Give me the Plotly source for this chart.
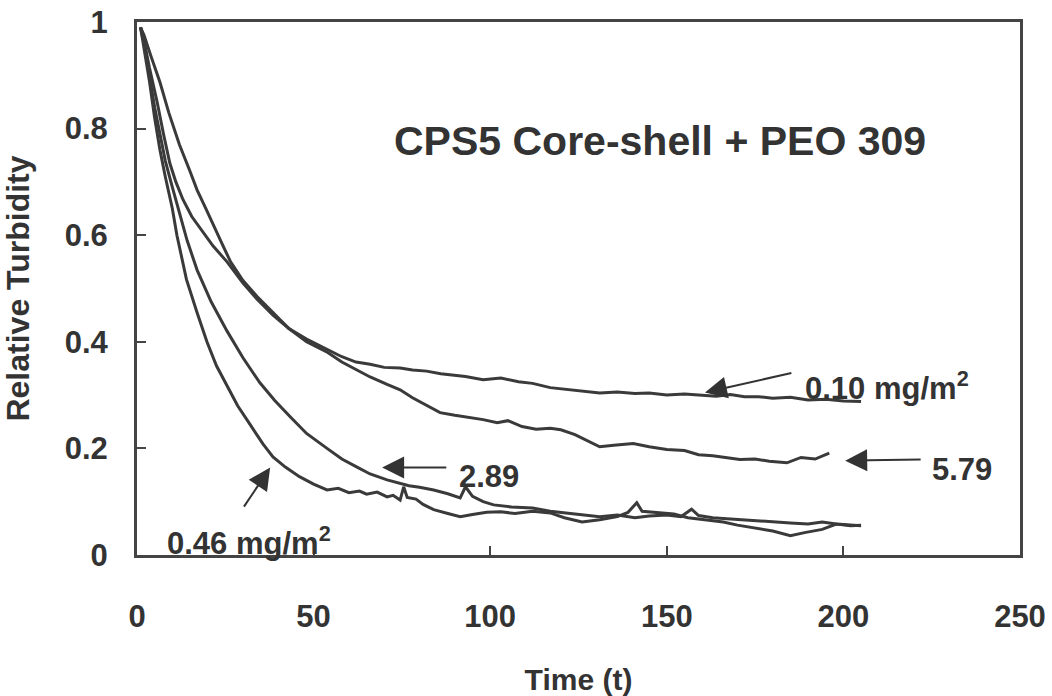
import plotly.graph_objects as go

# ---- data ----
t_010 = [1, 2, 4, 6.5, 9, 12, 15, 17, 19.5, 21.5, 24, 26.5, 30, 34, 38.5, 43, 48, 54, 58, 62,
         66, 70, 74.5, 78, 82, 86, 89, 93, 98, 103, 108, 112, 117, 122, 126, 131, 136, 141, 145, 150,
         155, 159, 164, 168, 172, 176, 180, 185, 190, 195, 200, 205]
y_010 = [0.99, 0.975, 0.935, 0.887, 0.83, 0.77, 0.72, 0.685, 0.65, 0.62, 0.585, 0.55, 0.515, 0.485, 0.455,
         0.425, 0.405, 0.385, 0.372, 0.362, 0.358, 0.352, 0.351, 0.347, 0.345, 0.34, 0.338, 0.335, 0.329, 0.332,
         0.325, 0.322, 0.314, 0.31, 0.307, 0.304, 0.306, 0.303, 0.304, 0.30, 0.302, 0.30, 0.298, 0.301, 0.297,
         0.297, 0.294, 0.296, 0.291, 0.292, 0.289, 0.288]

t_579 = [1, 2, 3.5, 5.7, 7.5, 9.3, 11, 13, 15.5, 18.7, 21.5, 25.5, 30, 34, 38.5, 43, 48, 54, 58, 62,
         66, 70.8, 74.5, 78, 82, 85.8, 90, 94, 98, 102, 105, 109, 113, 117, 120, 124, 128, 131, 135, 140.5,
         145, 150, 155, 159, 163, 167, 170.7, 175, 179, 184, 188, 192, 196]
y_579 = [0.99, 0.965, 0.915, 0.85, 0.79, 0.735, 0.70, 0.667, 0.635, 0.605, 0.58, 0.55, 0.51, 0.48, 0.45,
         0.425, 0.40, 0.38, 0.362, 0.348, 0.334, 0.32, 0.31, 0.295, 0.28, 0.267, 0.262, 0.258, 0.254, 0.248,
         0.252, 0.241, 0.236, 0.238, 0.235, 0.226, 0.213, 0.203, 0.206, 0.209, 0.203, 0.198, 0.196, 0.188, 0.186,
         0.183, 0.179, 0.18, 0.176, 0.173, 0.183, 0.18, 0.191]

t_289 = [1, 2, 3.5, 5, 6.5, 8, 10, 12, 14.2, 17, 21, 25.5, 30, 34.8, 39, 43.3, 48, 53.8, 58, 62.3,
         66, 70.8, 74, 77, 80, 84, 88, 91.5, 93, 95, 98, 101, 106, 112, 117, 121, 126, 131, 136, 141,
         145, 150, 154, 157, 159, 163, 167, 171, 175, 180, 185, 190, 194, 198, 202, 205]
y_289 = [0.99, 0.96, 0.9, 0.84, 0.79, 0.74, 0.69, 0.64, 0.59, 0.535, 0.475, 0.42, 0.37, 0.323, 0.29,
         0.26, 0.228, 0.2, 0.18, 0.165, 0.152, 0.141, 0.135, 0.13, 0.127, 0.122, 0.115, 0.107, 0.128, 0.11,
         0.1, 0.094, 0.09, 0.088, 0.082, 0.079, 0.075, 0.072, 0.075, 0.07, 0.073, 0.075, 0.072, 0.086, 0.074,
         0.07, 0.068, 0.066, 0.064, 0.062, 0.06, 0.058, 0.062, 0.058, 0.056, 0.055]

t_046 = [1, 2, 3.5, 5, 6.5, 8, 10, 11.3, 12.5, 14, 17, 19.8, 22.5, 25.5, 28.5, 32, 35.7, 38.5, 42, 46,
         50, 53.8, 57, 60, 63, 65, 68, 70.8, 72.5, 74.5, 75.5, 76.5, 79, 81, 84, 88, 91.5, 95, 99, 103,
         107, 112, 117, 121, 126, 131, 136, 139, 141.5, 143, 147, 152, 156, 161, 166, 170, 175, 180, 185, 189,
         194, 198, 202, 205]
y_046 = [0.99, 0.95, 0.89, 0.82, 0.76, 0.71, 0.65, 0.6, 0.56, 0.517, 0.455, 0.4, 0.355, 0.318, 0.28,
         0.245, 0.208, 0.184, 0.165, 0.147, 0.133, 0.122, 0.125, 0.117, 0.12, 0.114, 0.118, 0.109, 0.112, 0.103,
         0.128, 0.108, 0.105, 0.095, 0.085, 0.078, 0.072, 0.076, 0.08, 0.081, 0.078, 0.082, 0.079, 0.07, 0.062,
         0.066, 0.072, 0.08, 0.098, 0.082, 0.08, 0.077, 0.07, 0.066, 0.062, 0.056, 0.05, 0.045, 0.036, 0.042,
         0.048, 0.058, 0.055, 0.056]

series = [("0.10 mg/m2", t_010, y_010), ("5.79", t_579, y_579),
          ("2.89", t_289, y_289), ("0.46 mg/m2", t_046, y_046)]

x_ticks = [0, 50, 100, 150, 200, 250]
y_ticks = [0, 0.2, 0.4, 0.6, 0.8, 1]
y_tick_text = ["0", "0.2", "0.4", "0.6", "0.8", "1"]

INK = "#333333"
LINE = "#3a3a3a"
FONT = "Liberation Sans, Arial, sans-serif"

fig = go.Figure()
for name, t, y in series:
    fig.add_trace(go.Scatter(x=t, y=y, mode="lines", name=name,
                             line=dict(color=LINE, width=3), showlegend=False))

axis_common = dict(showline=True, linecolor="#444444", linewidth=3, mirror=True,
                   ticks="inside", ticklen=9, tickwidth=2, tickcolor="#444444",
                   showgrid=False, zeroline=False, automargin=False,
                   tickfont=dict(family=FONT, size=31, color=INK, weight="bold"))

fig.update_xaxes(range=[0, 250], tickvals=x_ticks, ticklabelstandoff=32,
                 title=dict(text="Time (t)", font=dict(family=FONT, size=30, color=INK, weight="bold"),
                            standoff=42),
                 **axis_common)
fig.update_yaxes(range=[0, 1], tickvals=y_ticks, ticktext=y_tick_text, ticklabelstandoff=20,
                 title=dict(text="Relative Turbidity", font=dict(family=FONT, size=32, color=INK, weight="bold"),
                            standoff=26),
                 **axis_common)

txt_font = dict(family=FONT, size=31, color=INK, weight="bold")
ann = [
    dict(x=148, y=0.776, text="CPS5 Core-shell + PEO 309", showarrow=False,
         font=dict(family=FONT, size=41, color=INK, weight="bold"), xanchor="center", yanchor="middle"),
    dict(x=188.6, y=0.318, text="0.10 mg/m<sup>2</sup>", showarrow=False, font=txt_font,
         xanchor="left", yanchor="middle"),
    dict(x=224.5, y=0.16, text="5.79", showarrow=False, font=txt_font, xanchor="left", yanchor="middle"),
    dict(x=90.6, y=0.147, text="2.89", showarrow=False, font=txt_font, xanchor="left", yanchor="middle"),
    dict(x=7.9, y=0.026, text="0.46 mg/m<sup>2</sup>", showarrow=False, font=txt_font,
         xanchor="left", yanchor="middle"),
]
arrows = [((185.7, 0.342), (160.8, 0.305)),
          ((222.3, 0.179), (200.5, 0.177)),
          ((88.0, 0.164), (69.4, 0.164)),
          ((30.0, 0.088), (37.7, 0.164))]
for (tx, ty), (hx, hy) in arrows:
    ann.append(dict(x=hx, y=hy, ax=tx, ay=ty, axref="x", ayref="y", xref="x", yref="y",
                    text="", showarrow=True, arrowhead=2, arrowsize=2.2, arrowwidth=2,
                    arrowcolor="#333333", standoff=0))

fig.update_layout(width=1052, height=696, margin=dict(l=137, r=32, t=22, b=141, autoexpand=False),
                  paper_bgcolor="white", plot_bgcolor="white", annotations=ann)

fig.write_html("out.html")
